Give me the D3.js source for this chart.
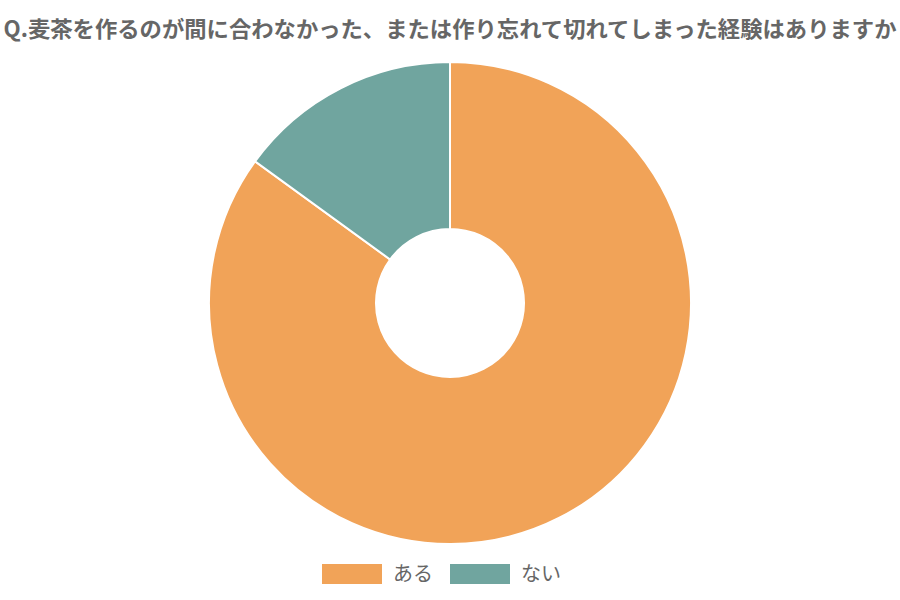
<!DOCTYPE html>
<html>
<head>
<meta charset="utf-8">
<script src="https://cdn.jsdelivr.net/npm/d3@7"></script>
<style>
  body { margin: 0; background: #fff; }
  text { font-family: "Noto Sans CJK JP", "Noto Sans", sans-serif; }
</style>
</head>
<body>
<div id="chart"></div>
<script>
// data
var labels = ["ある", "ない"];
var values = [85, 15];
var colors = ["#F1A358", "#70A59F"];
var title = "Q.麦茶を作るのが間に合わなかった、または作り忘れて切れてしまった経験はありますか";

var svgWidth = 900;
var svgHeight = 600;

var svg = d3.select("#chart")
    .append("svg")
    .attr("width", svgWidth)
    .attr("height", svgHeight);

// title
svg.append("text")
    .attr("x", svgWidth / 2)
    .attr("y", 37)
    .attr("text-anchor", "middle")
    .attr("font-size", 22)
    .attr("font-weight", "bold")
    .attr("fill", "#666")
    .attr("textLength", 893)
    .attr("lengthAdjust", "spacingAndGlyphs")
    .text(title);

// pie
var cx = 450, cy = 303;
var outerR = 241, innerR = 74;

var pie = d3.pie().sort(null).value(d => d);
var arc = d3.arc().innerRadius(innerR).outerRadius(outerR);

var pieGroup = svg.append("g")
    .attr("transform", `translate(${cx}, ${cy})`);

pieGroup.selectAll("path")
    .data(pie(values))
    .enter()
    .append("path")
    .attr("d", arc)
    .attr("fill", (d, i) => colors[i])
    .attr("stroke", "#fff")
    .attr("stroke-width", 2);

// legend
var legendX = [322, 450];
var legend = svg.append("g");
labels.forEach((lab, i) => {
    legend.append("rect")
        .attr("x", legendX[i])
        .attr("y", 564)
        .attr("width", 60)
        .attr("height", 20)
        .attr("fill", colors[i]);
    legend.append("text")
        .attr("x", legendX[i] + 71)
        .attr("y", 581)
        .attr("font-size", 20)
        .attr("fill", "#666")
        .text(lab);
});
</script>
</body>
</html>
